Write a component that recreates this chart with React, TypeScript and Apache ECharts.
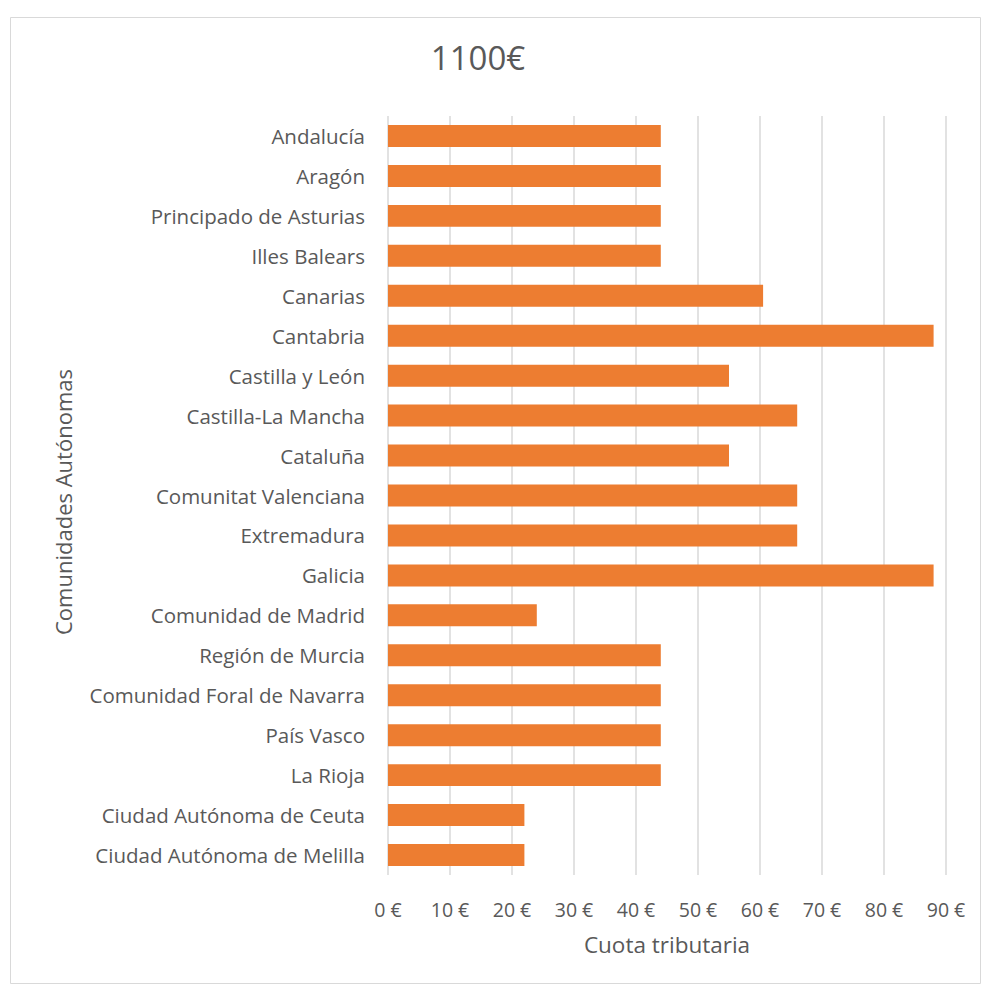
import React, { useEffect, useRef } from "react";
import * as echarts from "echarts";

const categories = [
  "Andalucía",
  "Aragón",
  "Principado de Asturias",
  "Illes Balears",
  "Canarias",
  "Cantabria",
  "Castilla y León",
  "Castilla-La Mancha",
  "Cataluña",
  "Comunitat Valenciana",
  "Extremadura",
  "Galicia",
  "Comunidad de Madrid",
  "Región de Murcia",
  "Comunidad Foral de Navarra",
  "País Vasco",
  "La Rioja",
  "Ciudad Autónoma de Ceuta",
  "Ciudad Autónoma de Melilla",
];

const values = [44, 44, 44, 44, 60.5, 88, 55, 66, 55, 66, 66, 88, 24, 44, 44, 44, 44, 22, 22];

const titleText = "1100€";
const xAxisName = "Cuota tributaria";
const yAxisName = "Comunidades Autónomas";

const FONT = "'Open Sans', 'Noto Sans', sans-serif";
const TXT = "#595959";

export default function App() {
  const ref = useRef<HTMLDivElement>(null);
  useEffect(() => {
    if (!ref.current) return;
    const chart = echarts.init(ref.current, null, { renderer: "svg" });
    chart.setOption({
      animation: false,
      backgroundColor: "#ffffff",
      textStyle: { fontFamily: FONT },
      title: {
        text: titleText,
        left: 473,
        top: 36,
        textAlign: "center",
        textStyle: { fontFamily: FONT, fontSize: 33, fontWeight: "normal", color: TXT },
      },
      graphic: [
        {
          type: "rect",
          shape: { x: 10.5, y: 17.5, width: 970, height: 966 },
          style: { fill: "none", stroke: "#d9d9d9", lineWidth: 1 },
          silent: true,
        },
        {
          type: "text",
          x: 63,
          y: 502,
          rotation: Math.PI / 2,
          style: {
            text: yAxisName,
            fontFamily: FONT,
            fontSize: 22,
            fill: TXT,
            align: "center",
            verticalAlign: "middle",
          },
        },
      ],
      grid: { left: 388, right: 36, top: 116, bottom: 110, containLabel: false },
      xAxis: {
        type: "value",
        min: 0,
        max: 90,
        interval: 10,
        name: xAxisName,
        nameLocation: "middle",
        nameGap: 58,
        nameTextStyle: { fontFamily: FONT, fontSize: 22.5, color: TXT },
        axisLine: { show: false },
        axisTick: { show: false },
        axisLabel: {
          fontFamily: FONT,
          fontSize: 19.5,
          color: TXT,
          margin: 24,
          formatter: (v: number) => `${v} €`,
        },
        splitLine: { show: true, lineStyle: { color: "#d9d9d9", width: 1.5 } },
      },
      yAxis: {
        type: "category",
        data: categories,
        inverse: true,
        axisLine: { show: false },
        axisTick: { show: false },
        axisLabel: { fontFamily: FONT, fontSize: 20.5, color: TXT, margin: 23 },
        splitLine: { show: false },
      },
      series: [
        {
          type: "bar",
          data: values,
          barCategoryGap: "45%",
          itemStyle: { color: "#ED7D31" },
        },
      ],
    });
    return () => chart.dispose();
  }, []);
  return (
    <div
      ref={ref}
      style={{ position: "absolute", left: 0, top: 0, width: 982, height: 985 }}
    />
  );
}
